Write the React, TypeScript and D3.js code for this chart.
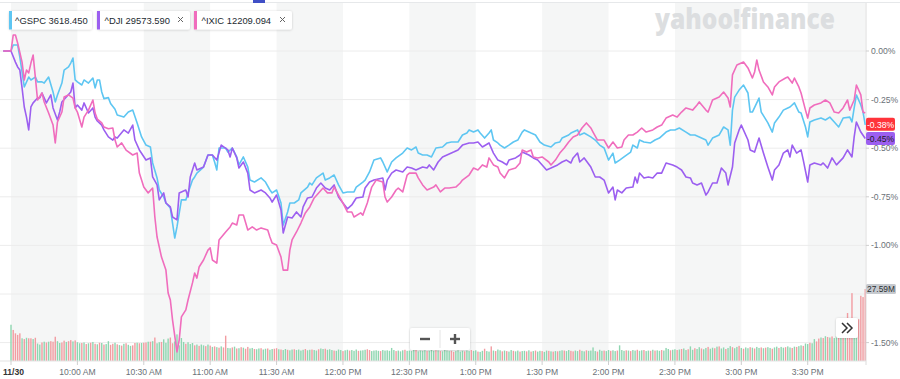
import React from "react";
import * as d3 from "d3";

const symbols = ["^GSPC", "^DJI", "^IXIC"];
const lastPrices = ["3618.450", "29573.590", "12209.094"];
const closeBadges = ["-0.38%", "-0.45%"];
const volumeBadge = "27.59M";
const xTickMinutes = [0, 30, 60, 90, 120, 150, 180, 210, 240, 270, 300, 330, 360];
const xTickLabels = ["11/30", "10:00 AM", "10:30 AM", "11:00 AM", "11:30 AM", "12:00 PM", "12:30 PM", "1:00 PM", "1:30 PM", "2:00 PM", "2:30 PM", "3:00 PM", "3:30 PM"];
const yTickValues = [0, -0.25, -0.5, -0.75, -1.0, -1.25, -1.5];
const yTickLabels = ["0.00%", "-0.25%", "-0.50%", "-0.75%", "-1.00%", "", "-1.50%"];
const shadedBands = [[0, 30], [60, 90], [120, 150], [180, 210], [240, 270], [300, 330], [360, 386]];

// [minute since 9:30, % change]
const gspc: [number, number][] = [[-3.5,0],[0,0],[1,0.031],[3,0.031],[4,-0.031],[6,-0.185],[8,-0.134],[9,-0.149],[11,-0.134],[12,-0.159],[14,-0.159],[15,-0.165],[17,-0.134],[19,-0.211],[20,-0.262],[21,-0.226],[23,-0.165],[24,-0.098],[26,-0.082],[27,-0.062],[28,-0.036],[29,-0.149],[30,-0.159],[32,-0.175],[33,-0.149],[35,-0.165],[37,-0.139],[38,-0.190],[39,-0.149],[40,-0.149],[41,-0.211],[42,-0.245],[44,-0.240],[45,-0.270],[47,-0.300],[48,-0.329],[51,-0.340],[53,-0.314],[55,-0.304],[57,-0.370],[59,-0.442],[61,-0.484],[63,-0.494],[64,-0.576],[66,-0.653],[67,-0.715],[69,-0.751],[70,-0.782],[72,-0.808],[73,-0.885],[74,-0.962],[75,-0.905],[77,-0.766],[79,-0.766],[80,-0.730],[82,-0.664],[83,-0.648],[84,-0.628],[87,-0.597],[89,-0.535],[91,-0.535],[92,-0.571],[93,-0.612],[94,-0.499],[97,-0.499],[98,-0.520],[100,-0.499],[102,-0.545],[103,-0.586],[105,-0.545],[107,-0.597],[108,-0.664],[110,-0.674],[113,-0.653],[115,-0.674],[117,-0.715],[118,-0.730],[120,-0.715],[122,-0.782],[123,-0.895],[125,-0.828],[126,-0.782],[128,-0.782],[130,-0.766],[131,-0.730],[134,-0.700],[135,-0.679],[136,-0.689],[138,-0.653],[141,-0.628],[142,-0.664],[144,-0.653],[146,-0.638],[148,-0.689],[150,-0.730],[152,-0.725],[155,-0.725],[156,-0.700],[159,-0.674],[160,-0.664],[162,-0.622],[164,-0.561],[167,-0.550],[168,-0.571],[170,-0.622],[172,-0.571],[174,-0.550],[177,-0.525],[179,-0.499],[181,-0.509],[183,-0.494],[184,-0.525],[186,-0.535],[188,-0.535],[190,-0.545],[192,-0.499],[195,-0.494],[197,-0.473],[199,-0.468],[202,-0.468],[204,-0.432],[206,-0.422],[207,-0.406],[209,-0.417],[211,-0.406],[212,-0.422],[214,-0.448],[216,-0.422],[217,-0.406],[218,-0.458],[220,-0.473],[221,-0.484],[223,-0.499],[225,-0.484],[227,-0.468],[229,-0.458],[231,-0.417],[232,-0.406],[235,-0.422],[237,-0.432],[239,-0.468],[241,-0.484],[244,-0.494],[246,-0.473],[248,-0.468],[249,-0.448],[252,-0.432],[253,-0.422],[256,-0.406],[257,-0.432],[259,-0.422],[262,-0.442],[264,-0.458],[266,-0.484],[268,-0.499],[270,-0.561],[272,-0.525],[273,-0.576],[275,-0.561],[277,-0.545],[280,-0.520],[281,-0.484],[283,-0.499],[284,-0.458],[286,-0.468],[289,-0.473],[291,-0.458],[293,-0.448],[296,-0.417],[298,-0.406],[300,-0.406],[302,-0.396],[305,-0.417],[307,-0.432],[309,-0.432],[311,-0.442],[314,-0.458],[315,-0.484],[317,-0.448],[320,-0.432],[322,-0.391],[324,-0.406],[325,-0.484],[326,-0.304],[327,-0.237],[329,-0.201],[331,-0.175],[333,-0.216],[334,-0.314],[335,-0.314],[338,-0.242],[339,-0.314],[342,-0.370],[344,-0.417],[345,-0.370],[347,-0.340],[349,-0.304],[351,-0.293],[352,-0.288],[354,-0.267],[356,-0.314],[357,-0.319],[359,-0.391],[360,-0.442],[361,-0.365],[363,-0.355],[366,-0.345],[368,-0.355],[370,-0.340],[372,-0.365],[374,-0.391],[376,-0.345],[379,-0.340],[380,-0.365],[381,-0.293],[382,-0.226],[384,-0.278],[385,-0.314],[386,-0.380]];

const dji: [number, number][] = [[-3.5,0],[0,0],[2,-0.057],[3,-0.082],[4,-0.098],[5,-0.190],[6,-0.288],[7,-0.340],[8,-0.406],[9,-0.288],[10,-0.267],[12,-0.242],[13,-0.242],[14,-0.216],[16,-0.267],[18,-0.226],[19,-0.293],[21,-0.355],[22,-0.314],[23,-0.262],[25,-0.237],[27,-0.211],[28,-0.165],[29,-0.293],[30,-0.278],[32,-0.304],[33,-0.267],[35,-0.319],[37,-0.293],[38,-0.340],[39,-0.360],[41,-0.381],[42,-0.406],[44,-0.442],[46,-0.458],[47,-0.442],[48,-0.448],[51,-0.406],[53,-0.422],[55,-0.381],[56,-0.458],[58,-0.509],[61,-0.561],[63,-0.550],[64,-0.648],[66,-0.689],[67,-0.766],[69,-0.730],[70,-0.782],[72,-0.802],[73,-0.854],[75,-0.869],[76,-0.730],[79,-0.715],[80,-0.751],[81,-0.648],[83,-0.576],[84,-0.612],[87,-0.597],[89,-0.535],[91,-0.535],[93,-0.561],[95,-0.484],[98,-0.509],[99,-0.545],[100,-0.499],[102,-0.550],[103,-0.602],[105,-0.571],[107,-0.628],[108,-0.715],[110,-0.730],[113,-0.715],[115,-0.730],[117,-0.756],[118,-0.777],[120,-0.741],[122,-0.818],[123,-0.936],[125,-0.854],[127,-0.859],[129,-0.828],[131,-0.854],[132,-0.802],[134,-0.756],[136,-0.751],[138,-0.705],[140,-0.679],[142,-0.705],[144,-0.715],[146,-0.689],[148,-0.751],[150,-0.782],[152,-0.812],[154,-0.792],[156,-0.756],[159,-0.751],[160,-0.705],[162,-0.674],[164,-0.664],[168,-0.653],[169,-0.715],[170,-0.664],[172,-0.628],[174,-0.612],[177,-0.622],[179,-0.597],[181,-0.602],[183,-0.612],[186,-0.597],[188,-0.602],[189,-0.586],[191,-0.612],[193,-0.571],[195,-0.545],[197,-0.535],[200,-0.520],[202,-0.509],[204,-0.484],[207,-0.473],[209,-0.473],[211,-0.468],[213,-0.494],[216,-0.473],[218,-0.525],[220,-0.561],[222,-0.571],[224,-0.586],[225,-0.561],[228,-0.550],[230,-0.535],[231,-0.520],[234,-0.535],[236,-0.550],[238,-0.561],[240,-0.586],[242,-0.612],[244,-0.602],[247,-0.586],[249,-0.571],[251,-0.561],[253,-0.576],[254,-0.550],[256,-0.525],[257,-0.571],[259,-0.550],[262,-0.597],[264,-0.648],[266,-0.648],[268,-0.664],[270,-0.730],[272,-0.700],[273,-0.766],[274,-0.715],[276,-0.730],[278,-0.705],[281,-0.700],[282,-0.648],[283,-0.679],[284,-0.628],[286,-0.653],[288,-0.648],[290,-0.653],[292,-0.628],[294,-0.628],[296,-0.576],[299,-0.586],[301,-0.597],[303,-0.612],[305,-0.648],[307,-0.653],[308,-0.679],[310,-0.689],[312,-0.679],[314,-0.741],[315,-0.725],[317,-0.679],[319,-0.679],[321,-0.602],[323,-0.628],[324,-0.689],[326,-0.597],[327,-0.473],[329,-0.406],[330,-0.381],[333,-0.458],[334,-0.509],[336,-0.520],[338,-0.448],[340,-0.525],[342,-0.597],[344,-0.664],[345,-0.612],[347,-0.586],[349,-0.525],[351,-0.509],[352,-0.545],[353,-0.484],[355,-0.525],[357,-0.509],[358,-0.561],[360,-0.674],[361,-0.586],[363,-0.576],[366,-0.586],[367,-0.576],[369,-0.602],[371,-0.550],[373,-0.586],[376,-0.550],[378,-0.509],[380,-0.545],[381,-0.442],[382,-0.365],[384,-0.417],[386,-0.450]];

const ixic: [number, number][] = [[-3.5,0],[0,0],[1,0.082],[2,0.082],[3,0.041],[5,-0.057],[6,-0.149],[7,-0.098],[8,-0.113],[9,-0.062],[10,-0.021],[11,-0.134],[12,-0.252],[14,-0.216],[15,-0.262],[17,-0.319],[19,-0.381],[20,-0.473],[21,-0.365],[23,-0.314],[24,-0.237],[26,-0.226],[28,-0.242],[29,-0.293],[30,-0.314],[32,-0.391],[33,-0.340],[35,-0.304],[37,-0.252],[38,-0.319],[39,-0.350],[41,-0.370],[42,-0.391],[44,-0.400],[46,-0.396],[47,-0.458],[48,-0.494],[50,-0.473],[52,-0.510],[55,-0.535],[57,-0.525],[58,-0.628],[60,-0.700],[62,-0.730],[64,-0.705],[65,-0.854],[66,-0.957],[68,-1.060],[70,-1.127],[71,-1.245],[72,-1.281],[73,-1.384],[75,-1.548],[76,-1.487],[77,-1.368],[79,-1.332],[80,-1.281],[82,-1.193],[83,-1.142],[84,-1.168],[85,-1.111],[87,-1.075],[89,-1.024],[90,-1.013],[91,-1.075],[93,-1.091],[94,-0.972],[97,-0.931],[99,-0.905],[100,-0.885],[102,-0.895],[103,-0.844],[105,-0.844],[107,-0.921],[109,-0.905],[111,-0.921],[113,-0.910],[116,-0.921],[117,-0.957],[118,-0.988],[120,-0.998],[122,-1.060],[123,-1.127],[125,-1.127],[126,-1.024],[127,-0.972],[129,-0.931],[131,-0.885],[133,-0.833],[135,-0.802],[137,-0.756],[139,-0.730],[141,-0.705],[143,-0.730],[145,-0.730],[146,-0.700],[148,-0.741],[150,-0.782],[152,-0.828],[154,-0.828],[155,-0.854],[158,-0.833],[159,-0.844],[161,-0.782],[163,-0.700],[165,-0.664],[168,-0.674],[169,-0.751],[170,-0.777],[172,-0.751],[174,-0.715],[175,-0.705],[177,-0.725],[179,-0.638],[180,-0.628],[183,-0.628],[184,-0.653],[186,-0.689],[188,-0.715],[191,-0.700],[192,-0.689],[194,-0.725],[196,-0.705],[198,-0.705],[201,-0.700],[203,-0.679],[204,-0.664],[207,-0.638],[209,-0.602],[211,-0.612],[213,-0.586],[215,-0.597],[216,-0.550],[218,-0.586],[220,-0.597],[221,-0.628],[223,-0.653],[225,-0.612],[228,-0.602],[230,-0.576],[231,-0.509],[233,-0.520],[235,-0.509],[236,-0.545],[238,-0.550],[240,-0.545],[243,-0.571],[244,-0.586],[246,-0.561],[248,-0.525],[250,-0.499],[252,-0.468],[254,-0.442],[256,-0.432],[258,-0.396],[260,-0.370],[262,-0.396],[263,-0.417],[265,-0.458],[268,-0.458],[270,-0.499],[272,-0.468],[274,-0.499],[276,-0.494],[277,-0.458],[279,-0.432],[281,-0.432],[283,-0.417],[285,-0.396],[287,-0.417],[290,-0.406],[292,-0.391],[294,-0.381],[296,-0.345],[299,-0.329],[301,-0.340],[303,-0.314],[305,-0.293],[308,-0.304],[310,-0.278],[311,-0.262],[314,-0.304],[315,-0.314],[317,-0.252],[320,-0.237],[322,-0.211],[324,-0.242],[325,-0.288],[326,-0.123],[328,-0.072],[331,-0.057],[333,-0.087],[335,-0.139],[336,-0.108],[337,-0.046],[338,-0.098],[340,-0.159],[342,-0.185],[344,-0.226],[345,-0.185],[347,-0.159],[350,-0.139],[351,-0.134],[353,-0.165],[354,-0.139],[356,-0.185],[357,-0.216],[359,-0.304],[360,-0.345],[361,-0.293],[363,-0.278],[366,-0.267],[368,-0.252],[370,-0.267],[372,-0.314],[374,-0.319],[376,-0.293],[378,-0.252],[379,-0.304],[381,-0.252],[382,-0.175],[384,-0.226],[385,-0.314],[386,-0.319]];

// volume per minute, millions (negative = down minute)
const volume = [
13.9,-11.9,-10.6,-10.0,-10.6,8.7,-8.4,8.9,-8.7,-8.7,
8.4,-8.9,6.7,6.3,-7.1,7.4,-7.1,7.4,-7.6,-7.4,
-9.3,7.6,6.9,-7.1,-7.8,7.3,-7.6,-8.0,7.5,-7.9,
7.2,6.8,-6.9,7.1,-6.5,6.8,-7.0,7.3,-6.6,6.4,
-7.0,6.9,-6.3,6.5,7.6,-6.2,-6.6,7.0,-6.4,6.1,
-5.9,6.6,-6.8,6.2,5.8,-6.0,-6.9,7.0,-6.8,6.9,
-7.0,-7.1,7.4,-7.4,7.6,-9.0,6.8,7.2,-7.3,8.3,
7.0,8.6,-9.0,-6.8,7.5,10.2,6.0,8.8,7.3,-6.6,
7.2,6.5,6.9,-6.0,6.3,-5.8,6.3,6.0,-5.7,6.3,
-5.9,5.4,-5.6,5.3,-5.1,5.6,-5.2,-9.7,5.0,4.9,
-5.2,5.5,-4.8,4.9,-5.3,5.1,-4.7,-5.4,4.8,5.0,
-4.6,4.5,4.8,-4.9,4.4,4.7,-4.8,4.3,4.6,-4.7,
-4.9,4.5,-4.4,4.2,4.6,-4.3,4.1,4.4,-4.5,4.2,
4.4,4.0,4.3,-4.6,4.1,4.3,-4.4,4.2,4.0,-4.5,
4.8,4.6,-4.7,4.3,4.5,4.2,-4.0,3.9,4.4,4.2,
-3.8,4.1,4.3,-4.0,4.2,3.9,4.4,-3.9,4.0,4.1,
4.3,-4.5,-4.2,3.8,4.0,4.1,3.9,-3.8,4.2,4.0,
4.1,3.9,5.0,4.2,-3.8,4.0,3.7,4.1,-4.3,3.9,
4.0,3.8,4.4,-4.2,3.7,4.0,3.9,4.1,-3.8,3.9,
4.8,3.9,-4.1,4.0,-3.8,3.7,4.2,4.0,3.8,-3.9,
-3.5,3.8,4.1,3.6,3.9,-3.7,4.0,3.8,-4.2,3.9,
4.1,-3.6,3.5,3.9,-4.7,3.8,3.6,-5.6,4.0,-3.8,
4.4,4.1,-3.7,4.0,-3.8,3.6,4.2,-3.9,3.7,4.0,
-3.6,3.8,3.9,-3.7,4.1,-3.6,3.8,-4.0,3.6,3.9,
-3.8,3.5,4.0,-3.9,3.7,-3.6,3.8,-3.7,3.9,4.1,
-4.0,3.8,4.2,-3.9,-3.7,4.0,3.8,-4.3,3.9,3.7,
-4.1,3.9,4.0,5.2,3.8,-3.6,4.3,3.9,-4.0,3.8,
4.2,-3.9,4.1,3.8,-4.0,6.0,4.2,3.9,-4.1,4.0,
-3.8,4.2,4.0,-4.3,3.9,4.1,-4.2,3.8,4.0,-3.9,
4.3,-4.0,4.1,3.9,-4.2,4.0,5.0,4.6,-4.1,4.3,
4.5,-4.2,4.4,-4.6,4.8,4.2,-4.5,5.6,4.3,-4.9,
4.6,5.3,-4.8,4.5,5.0,-5.4,4.7,5.1,-4.9,5.5,
-5.6,4.8,5.2,-4.6,5.0,5.7,-5.3,4.9,5.4,-5.8,
5.0,-4.7,5.2,4.9,-5.3,5.1,-4.8,5.4,5.0,-5.2,
4.9,-5.1,5.3,5.0,-4.7,5.2,5.5,-5.0,5.4,5.1,
-5.3,5.6,5.2,-5.0,5.5,-5.4,5.7,6.0,-5.8,6.7,
6.5,-7.0,6.8,8.4,-7.5,-8.6,9.0,-8.8,9.5,-9.2,
9.0,-9.4,8.8,9.6,-10.2,9.8,-11.5,10.0,-18.4,-12.0,
-26.0,11.0,12.5,-16.0,-25.0,-24.5,-27.59
];

const series = [
  { name: "gspc", data: gspc, color: "#5ec6f2" },
  { name: "dji", data: dji, color: "#9c5ff0" },
  { name: "ixic", data: ixic, color: "#f06dbd" },
];

const FONT = "'Liberation Sans', Arial, Helvetica, sans-serif";

export default function App() {
  const W = 900, H = 379;
  const x = d3.scaleLinear().domain([0, 390]).range([11, 874.1]);
  const y = d3.scaleLinear().domain([0, -1.5]).range([51, 342.6]);
  const vol = d3.scaleLinear().domain([0, 27.59]).range([361, 289]);
  const plotRight = 866;
  const plotTop = 3;
  const plotBottom = 361;
  const line = d3.line<[number, number]>().x(d => x(d[0])).y(d => y(d[1]));

  const legendBoxes = [
    { x: 9, w: 83, close: false },
    { x: 97, w: 93, close: true },
    { x: 194, w: 98, close: true },
  ];

  return (
    <div style={{ position: "fixed", left: 0, top: 0, width: W, height: H, background: "#fff" }}>
      <svg width={W} height={H} style={{ display: "block", fontFamily: FONT }}>
        <defs>
          <filter id="sh" x="-20%" y="-40%" width="140%" height="180%">
            <feDropShadow dx="0" dy="0.5" stdDeviation="1" floodColor="#000" floodOpacity="0.2" />
          </filter>
        </defs>
        <rect x={0} y={0} width={W} height={H} fill="#fff" />
        {shadedBands.map((b, i) => (
          <rect key={i} x={x(b[0])} y={plotTop} width={Math.min(x(b[1]), plotRight) - x(b[0])} height={plotBottom - plotTop} fill="#f5f6f6" />
        ))}
        <line x1={0} x2={W} y1={2.5} y2={2.5} stroke="#e6e8ea" />
        <rect x={253} y={0} width={12} height={3} fill="#3f4fc6" />
        {yTickValues.map((v, i) => (
          <line key={i} x1={0} x2={plotRight} y1={y(v)} y2={y(v)} stroke="#ececec" strokeWidth={1} />
        ))}
        <text x={655} y={29} fontSize={28} fontWeight={800} fill="#dcdee0" fontFamily="'Open Sans', sans-serif" textLength={180} lengthAdjust="spacingAndGlyphs">yahoo!finance</text>
        {volume.map((v, i) => (
          <rect key={i} x={x(i) - 0.7} y={vol(Math.abs(v))} width={1.4} height={plotBottom - vol(Math.abs(v))} fill={v >= 0 ? "#8ed6b0" : "#f29ca1"} />
        ))}
        <line x1={plotRight} x2={plotRight} y1={plotTop} y2={plotBottom + 4} stroke="#dcdcdc" />
        <line x1={0} x2={plotRight} y1={plotBottom} y2={plotBottom} stroke="#e3e3e3" />
        {xTickMinutes.map((m, i) => (
          <g key={i}>
            <line x1={x(m)} x2={x(m)} y1={plotBottom} y2={plotBottom + 4} stroke="#cfcfcf" />
            <text x={i === 0 ? 3 : x(m)} y={375} fontSize={8.6} textAnchor={i === 0 ? "start" : "middle"} fill={i === 0 ? "#333" : "#6b7177"} fontWeight={i === 0 ? 700 : 400}>{xTickLabels[i]}</text>
          </g>
        ))}
        {yTickValues.map((v, i) => yTickLabels[i] ? (
          <g key={i}>
            <line x1={plotRight} x2={plotRight + 3} y1={y(v)} y2={y(v)} stroke="#cfcfcf" />
            <text x={871} y={y(v) + 3} fontSize={8.6} fill="#6b7177">{yTickLabels[i]}</text>
          </g>
        ) : null)}
        {series.map(s => (
          <path key={s.name} d={line(s.data) || ""} fill="none" stroke={s.color} strokeWidth={1.6} strokeLinejoin="round" />
        ))}
        <rect x={866} y={y(-0.38) - 7} width={29} height={13} rx={2} fill="#ff333a" />
        <text x={880.5} y={y(-0.38) + 3} fontSize={8.6} fill="#fff" textAnchor="middle">{closeBadges[0]}</text>
        <rect x={866} y={y(-0.45) - 6.5} width={29} height={13} rx={2} fill="#9c5ff0" />
        <text x={880.5} y={y(-0.45) + 3.5} fontSize={8.6} fill="#1e1e1e" textAnchor="middle">{closeBadges[1]}</text>
        <rect x={866} y={vol(27.59) - 5} width={30} height={10} rx={1.5} fill="#c6cacf" />
        <text x={881} y={vol(27.59) + 3} fontSize={8.4} fill="#2b2f33" textAnchor="middle">{volumeBadge}</text>
        <g filter="url(#sh)">
          <rect x={410} y={328} width={60} height={22} rx={2} fill="#fff" />
        </g>
        <line x1={420} x2={430} y1={339} y2={339} stroke="#555" strokeWidth={2.4} />
        <line x1={440} x2={440} y1={330} y2={348} stroke="#e4e4e4" />
        <line x1={450} x2={460} y1={339} y2={339} stroke="#555" strokeWidth={2.4} />
        <line x1={455} x2={455} y1={334} y2={344} stroke="#555" strokeWidth={2.4} />
        <g filter="url(#sh)">
          <rect x={836} y={318} width={22} height={20} rx={2} fill="#fff" />
        </g>
        <path d="M842,323 L847,328 L842,333 M847,323 L852,328 L847,333" fill="none" stroke="#333" strokeWidth={1.5} />
        {legendBoxes.map((b, i) => (
          <g key={i}>
            <g filter="url(#sh)">
              <rect x={b.x} y={11} width={b.w} height={18.5} rx={2} fill="#fff" />
            </g>
            <rect x={b.x} y={11} width={3} height={18.5} fill={series[i].color} />
            <text x={b.x + (i === 0 ? 6 : 7.5)} y={23.8} fontSize={9.4} fill="#232a31">{symbols[i]} {lastPrices[i]}</text>
            {b.close && (
              <path d={`M${b.x + b.w - 12},${17} l5,5 M${b.x + b.w - 7},${17} l-5,5`} stroke="#666" strokeWidth={1} />
            )}
          </g>
        ))}
      </svg>
    </div>
  );
}
